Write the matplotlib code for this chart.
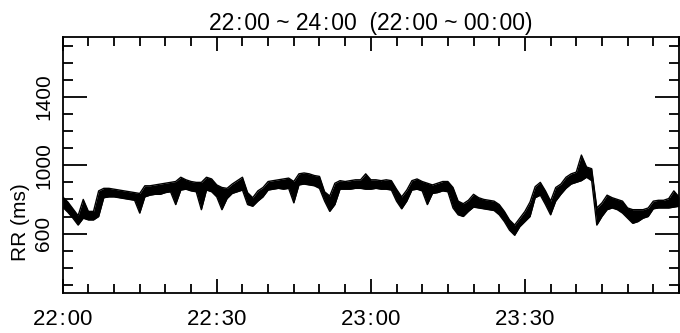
#!/usr/bin/env python3
"""RR interval trend, 22:00 - 24:00."""

import matplotlib

matplotlib.use("Agg")
import matplotlib.pyplot as plt
from matplotlib.ticker import FixedLocator, MultipleLocator

plt.rcParams["font.family"] = ["Liberation Sans", "DejaVu Sans"]

# minutes after 22:00, with the low / high edge of the RR band read per minute
minute = list(range(121))
rr_low = [
    755, 725, 690, 650, 690, 680, 680, 700, 810, 815,
    815, 810, 805, 800, 795, 720, 815, 825, 830, 830,
    840, 845, 770, 855, 860, 850, 845, 740, 855, 845,
    815, 740, 805, 835, 845, 855, 770, 760, 790, 815,
    855, 860, 865, 860, 865, 780, 885, 890, 885, 880,
    865, 790, 730, 770, 860, 860, 860, 865, 865, 860,
    860, 865, 860, 860, 855, 790, 745, 790, 855, 860,
    850, 770, 835, 840, 850, 845, 750, 710, 700, 730,
    755, 750, 745, 740, 735, 710, 670, 620, 590, 640,
    670, 700, 810, 825, 770, 710, 790, 830, 865, 890,
    900, 910, 930, 910, 650, 700, 740, 750, 740, 720,
    690, 660, 670, 690, 700, 745, 750, 750, 750, 755,
    760,
]
rr_high = [
    815, 785, 745, 705, 800, 730, 730, 850, 865, 865,
    860, 855, 850, 845, 840, 835, 880, 880, 885, 890,
    895, 900, 905, 930, 915, 905, 900, 900, 930, 920,
    885, 870, 865, 890, 910, 930, 840, 810, 850, 870,
    905, 910, 915, 920, 925, 905, 950, 955, 950, 940,
    935, 845, 820, 895, 910, 905, 910, 915, 915, 950,
    915, 915, 910, 915, 910, 860, 815, 855, 910, 920,
    905, 895, 885, 895, 905, 905, 870, 790, 775, 795,
    830, 810, 800, 795, 790, 770, 730, 680, 650, 690,
    730, 785, 875, 900, 850, 790, 870, 890, 930, 950,
    960, 1060, 990, 980, 750, 780, 825, 810, 800, 790,
    750, 740, 740, 740, 750, 790, 795, 795, 805, 850,
    815,
]
x_ticks = [0, 30, 60, 90]
x_labels = ["22\u200a:\u200a00", "22\u200a:\u200a30", "23\u200a:\u200a00", "23\u200a:\u200a30"]
y_ticks = [600, 1000, 1400]
title = "22\u200a:\u200a00 ~ 24\u200a:\u200a00  (22\u200a:\u200a00 ~ 00\u200a:\u200a00)"


def main() -> None:
    fig = plt.figure(figsize=(6.8, 3.33), dpi=100)
    ax = fig.add_axes([0.0922, 0.1192, 0.9063, 0.7688])

    ax.fill_between(minute, rr_low, rr_high, color="black", linewidth=0)
    ax.plot(minute, rr_low, color="black", linewidth=1.0)
    ax.plot(minute, rr_high, color="black", linewidth=1.0)

    ax.set_xlim(0, 120)
    ax.set_ylim(250, 1750)

    ax.xaxis.set_major_locator(FixedLocator(x_ticks))
    ax.xaxis.set_minor_locator(MultipleLocator(5))
    ax.set_xticklabels(x_labels)
    ax.yaxis.set_major_locator(FixedLocator(y_ticks))
    ax.yaxis.set_minor_locator(MultipleLocator(100))
    ax.set_yticklabels([str(v) for v in y_ticks], rotation=90, va="center")

    ax.tick_params(which="both", direction="in", top=True, right=True, width=1.3)
    ax.tick_params(axis="x", which="major", length=10, labelsize=16, pad=11)
    ax.tick_params(axis="x", which="minor", length=6.5)
    ax.tick_params(axis="y", which="major", length=17, labelsize=15, pad=7)
    ax.tick_params(axis="y", which="minor", length=7)
    for spine in ax.spines.values():
        spine.set_linewidth(1.3)

    ax.set_title(title, fontsize=16.5, pad=5)
    fig.text(20 / 680, 1 - 222 / 333, "RR (ms)", rotation=90,
             ha="center", va="center", fontsize=15)

    fig.savefig("out.png", dpi=100)


if __name__ == "__main__":
    main()
